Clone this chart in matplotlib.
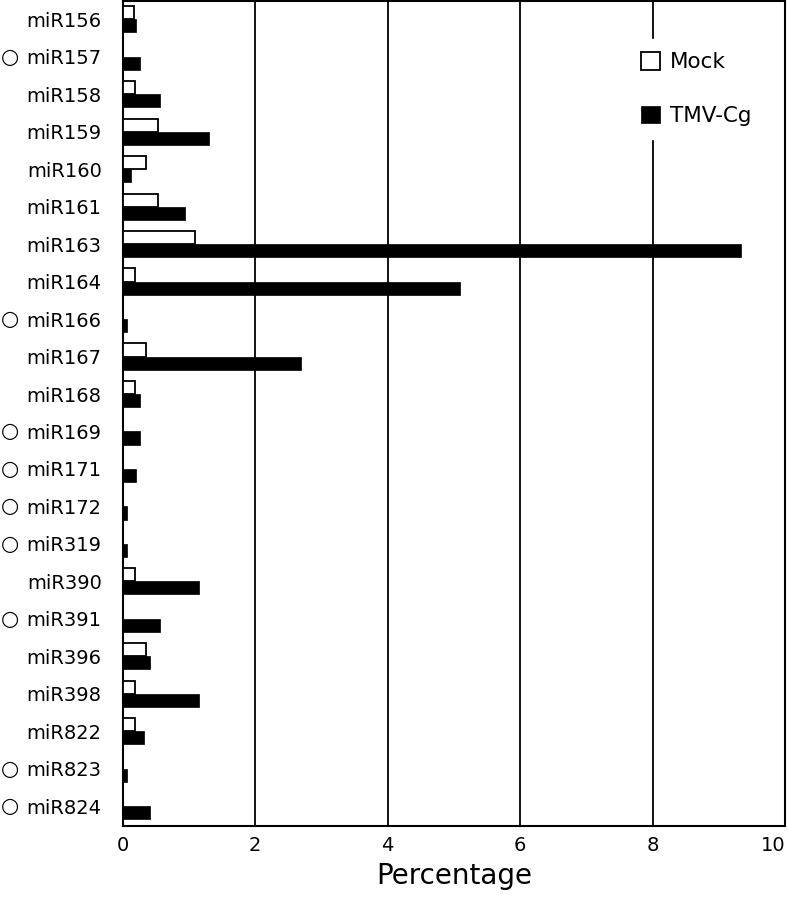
import matplotlib
matplotlib.use("Agg")
import matplotlib.pyplot as plt
import matplotlib.transforms as mtransforms
import numpy as np

categories = ["miR156", "miR157", "miR158", "miR159", "miR160", "miR161", "miR163",
              "miR164", "miR166", "miR167", "miR168", "miR169", "miR171", "miR172",
              "miR319", "miR390", "miR391", "miR396", "miR398", "miR822", "miR823", "miR824"]
mock = [0.18, 0.0, 0.19, 0.54, 0.35, 0.54, 1.10, 0.19, 0.0, 0.35, 0.19, 0.0, 0.0, 0.0,
        0.0, 0.19, 0.0, 0.35, 0.19, 0.19, 0.0, 0.0]
tmv = [0.20, 0.27, 0.56, 1.30, 0.13, 0.94, 9.33, 5.10, 0.06, 2.69, 0.27, 0.27, 0.20, 0.06,
       0.06, 1.15, 0.56, 0.41, 1.15, 0.33, 0.06, 0.41]
marked = ["miR157", "miR166", "miR169", "miR171", "miR172", "miR319", "miR391", "miR823", "miR824"]
xticks = [0, 2, 4, 6, 8, 10]

plt.rcParams['font.family'] = ['DejaVu Sans']

fig = plt.figure(figsize=(7.89, 8.99), dpi=100)
ax = fig.add_axes([0.1553, 0.0812, 0.8397, 0.9177])

y = np.arange(len(categories))
h = 0.35
ax.barh(y - h / 2, mock, height=h, color="white", edgecolor="black", linewidth=1.3,
        label="Mock", zorder=3)
ax.barh(y + h / 2, tmv, height=h, color="black", edgecolor="black", linewidth=0.5,
        label="TMV-Cg", zorder=3)

ax.set_xlim(0, 10)
ax.set_ylim(len(categories) - 1 + 0.53, -0.49)
ax.set_xticks(xticks)
ax.set_xticklabels([str(t) for t in xticks], fontsize=14)
ax.get_xticklabels()[-1].set_horizontalalignment("right")
ax.set_yticks(y)
ax.set_yticklabels(categories, fontsize=14)
ax.tick_params(axis="x", length=0, pad=7)
ax.tick_params(axis="y", length=0, pad=15)
ax.set_xlabel("Percentage", fontsize=20, labelpad=5)

for gx in xticks[1:-1]:
    ax.axvline(gx, color="black", linewidth=1.3, zorder=1)
for s in ax.spines.values():
    s.set_linewidth(1.5)

trans = mtransforms.blended_transform_factory(fig.transFigure, ax.transData)
for i, c in enumerate(categories):
    if c in marked:
        ax.text(0.013, i, "○", transform=trans, fontsize=15, ha="center", va="center")

leg = ax.legend(loc="upper right", bbox_to_anchor=(0.985, 0.967), frameon=True,
                fontsize=15.5, handlelength=0.9, handleheight=0.9, labelspacing=1.55,
                borderpad=0.6, handletextpad=0.45)
leg.get_frame().set_edgecolor("white")
leg.get_frame().set_facecolor("white")
leg.get_frame().set_alpha(1)
leg.get_frame().set_boxstyle("square", pad=0)
leg.set_zorder(5)

fig.savefig("out.png", dpi=100)
